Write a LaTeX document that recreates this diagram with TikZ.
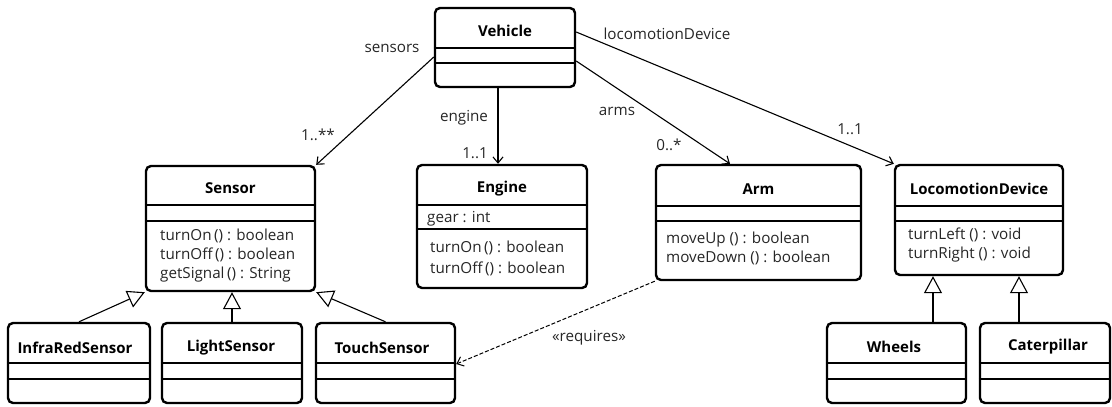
\documentclass[tikz,border=0pt]{standalone}
\usepackage{fontspec}
\setmainfont{Open Sans}
\usepackage{tikz}
\usetikzlibrary{arrows.meta}

\begin{document}
\begin{tikzpicture}[x=1pt,y=-1pt,
		every node/.style={font=\fontsize{15.2}{19}\selectfont, text=black!85, inner sep=0pt},
		cls/.style={draw, line width=2.4pt, rounded corners=5pt},
		ttl/.style={font=\fontsize{15}{19}\selectfont\bfseries, text=black},
		ops/.style={anchor=west, align=left},
		comp/.style={line width=1.1pt},
		assoc/.style={-{Straight Barb[length=6pt,width=10pt]}, line width=1.1pt},
		inh/.style={-{Triangle[open,length=17pt,width=18pt]}, line width=1.1pt},
		dep/.style={-{Straight Barb[length=6pt,width=10pt]}, line width=1pt, dash pattern=on 4pt off 2pt}]
		\useasboundingbox (0,0) rectangle (1112,407);
		% classes
		\node[cls, minimum width=140pt, minimum height=79pt] (vehicle) at (505,47.5) {};
		\node[cls, minimum width=169pt, minimum height=125pt] (sensor) at (230.5,228.5) {};
		\node[cls, minimum width=170pt, minimum height=123pt] (engine) at (502,226.5) {};
		\node[cls, minimum width=205pt, minimum height=115pt] (arm) at (758.5,222.5) {};
		\node[cls, minimum width=168pt, minimum height=110pt] (loco) at (979,220) {};
		\node[cls, minimum width=142pt, minimum height=80pt] (infra) at (79,363) {};
		\node[cls, minimum width=140pt, minimum height=80pt] (light) at (232,363) {};
		\node[cls, minimum width=139pt, minimum height=80pt] (touch) at (385.5,363) {};
		\node[cls, minimum width=139pt, minimum height=80pt] (wheels) at (896.5,363) {};
		\node[cls, minimum width=130pt, minimum height=80pt] (cater) at (1045,363) {};
		%
		\draw[comp] (vehicle.west |- 0,48) -- (vehicle.east |- 0,48);
		\draw[comp] (vehicle.west |- 0,63) -- (vehicle.east |- 0,63);
		\draw[comp] (sensor.west |- 0,205) -- (sensor.east |- 0,205);
		\draw[comp] (sensor.west |- 0,221) -- (sensor.east |- 0,221);
		\draw[comp] (engine.west |- 0,205) -- (engine.east |- 0,205);
		\draw[comp] (engine.west |- 0,229) -- (engine.east |- 0,229);
		\draw[comp] (arm.west |- 0,206) -- (arm.east |- 0,206);
		\draw[comp] (arm.west |- 0,221) -- (arm.east |- 0,221);
		\draw[comp] (loco.west |- 0,206) -- (loco.east |- 0,206);
		\draw[comp] (loco.west |- 0,221) -- (loco.east |- 0,221);
		\draw[comp] (infra.west |- 0,363) -- (infra.east |- 0,363);
		\draw[comp] (infra.west |- 0,379) -- (infra.east |- 0,379);
		\draw[comp] (light.west |- 0,363) -- (light.east |- 0,363);
		\draw[comp] (light.west |- 0,379) -- (light.east |- 0,379);
		\draw[comp] (touch.west |- 0,363) -- (touch.east |- 0,363);
		\draw[comp] (touch.west |- 0,379) -- (touch.east |- 0,379);
		\draw[comp] (wheels.west |- 0,363) -- (wheels.east |- 0,363);
		\draw[comp] (wheels.west |- 0,379) -- (wheels.east |- 0,379);
		\draw[comp] (cater.west |- 0,363) -- (cater.east |- 0,363);
		\draw[comp] (cater.west |- 0,379) -- (cater.east |- 0,379);
		%
		\node[ttl] (vehicleT) at (505,31) {Vehicle};
		\node[ttl] (sensorT) at (230.5,188) {Sensor};
		\node[ttl] (engineT) at (502,189) {Engine};
		\node[ttl] (armT) at (758.5,189) {Arm};
		\node[ttl] (locoT) at (979,189) {LocomotionDevice};
		\node[ttl] (infraT) at (75,348) {InfraRedSensor};
		\node[ttl] (lightT) at (231,348) {LightSensor};
		\node[ttl] (touchT) at (382,348) {TouchSensor};
		\node[ttl] (wheelsT) at (894,347) {Wheels};
		\node[ttl] (caterT) at (1048,347) {Caterpillar};
		%
		\node[ops] (sensorM) at (160,256) {turnOn\,() : boolean\\turnOff\,() : boolean\\getSignal\,() : String};
		\node[ops] (engineA) at (427,219) {gear : int};
		\node[ops] (engineM) at (430,258.5) {turnOn\,() : boolean\\[2pt]turnOff\,() : boolean};
		\node[ops] (armM) at (666,248.5) {moveUp () : boolean\\moveDown () : boolean};
		\node[ops] (locoM) at (908,245.5) {turnLeft () : void\\turnRight () : void};
		%
		\draw[assoc] (vehicle.west |- 0,57) -- (sensor.north east);
		\draw[assoc] (vehicle.south -| 498,0) -- (engine.north -| 498,0);
		\draw[assoc] (vehicle.east |- 0,61) -- (arm.north -| 730,0);
		\draw[assoc] (vehicle.east |- 0,32) -- (loco.north west);
		\node (sensorsL) at (392,48) {sensors};
		\node (sensorsM) at (318,135) {1..**};
		\node (engineL) at (464,118) {engine};
		\node (engineN) at (475,153) {1..1};
		\node (armsL) at (617,111) {arms};
		\node (armsM) at (669,145) {0..*};
		\node (locoL) at (667,34) {locomotionDevice};
		\node (locoN) at (850,129) {1..1};
		%
		\draw[inh] (infra.north) -- (sensor.south west);
		\draw[inh] (light.north) -- (light.north |- sensor.south);
		\draw[inh] (touch.north) -- (sensor.south east);
		\draw[inh] (wheels.north -| 933,0) -- (loco.south -| 933,0);
		\draw[inh] (cater.north -| 1019,0) -- (loco.south -| 1019,0);
		%
		\draw[dep] (arm.south west) -- (touch.east |- 0,364);
		\node (reqL) at (589,338) {«requires»};
\end{tikzpicture}
\end{document}
